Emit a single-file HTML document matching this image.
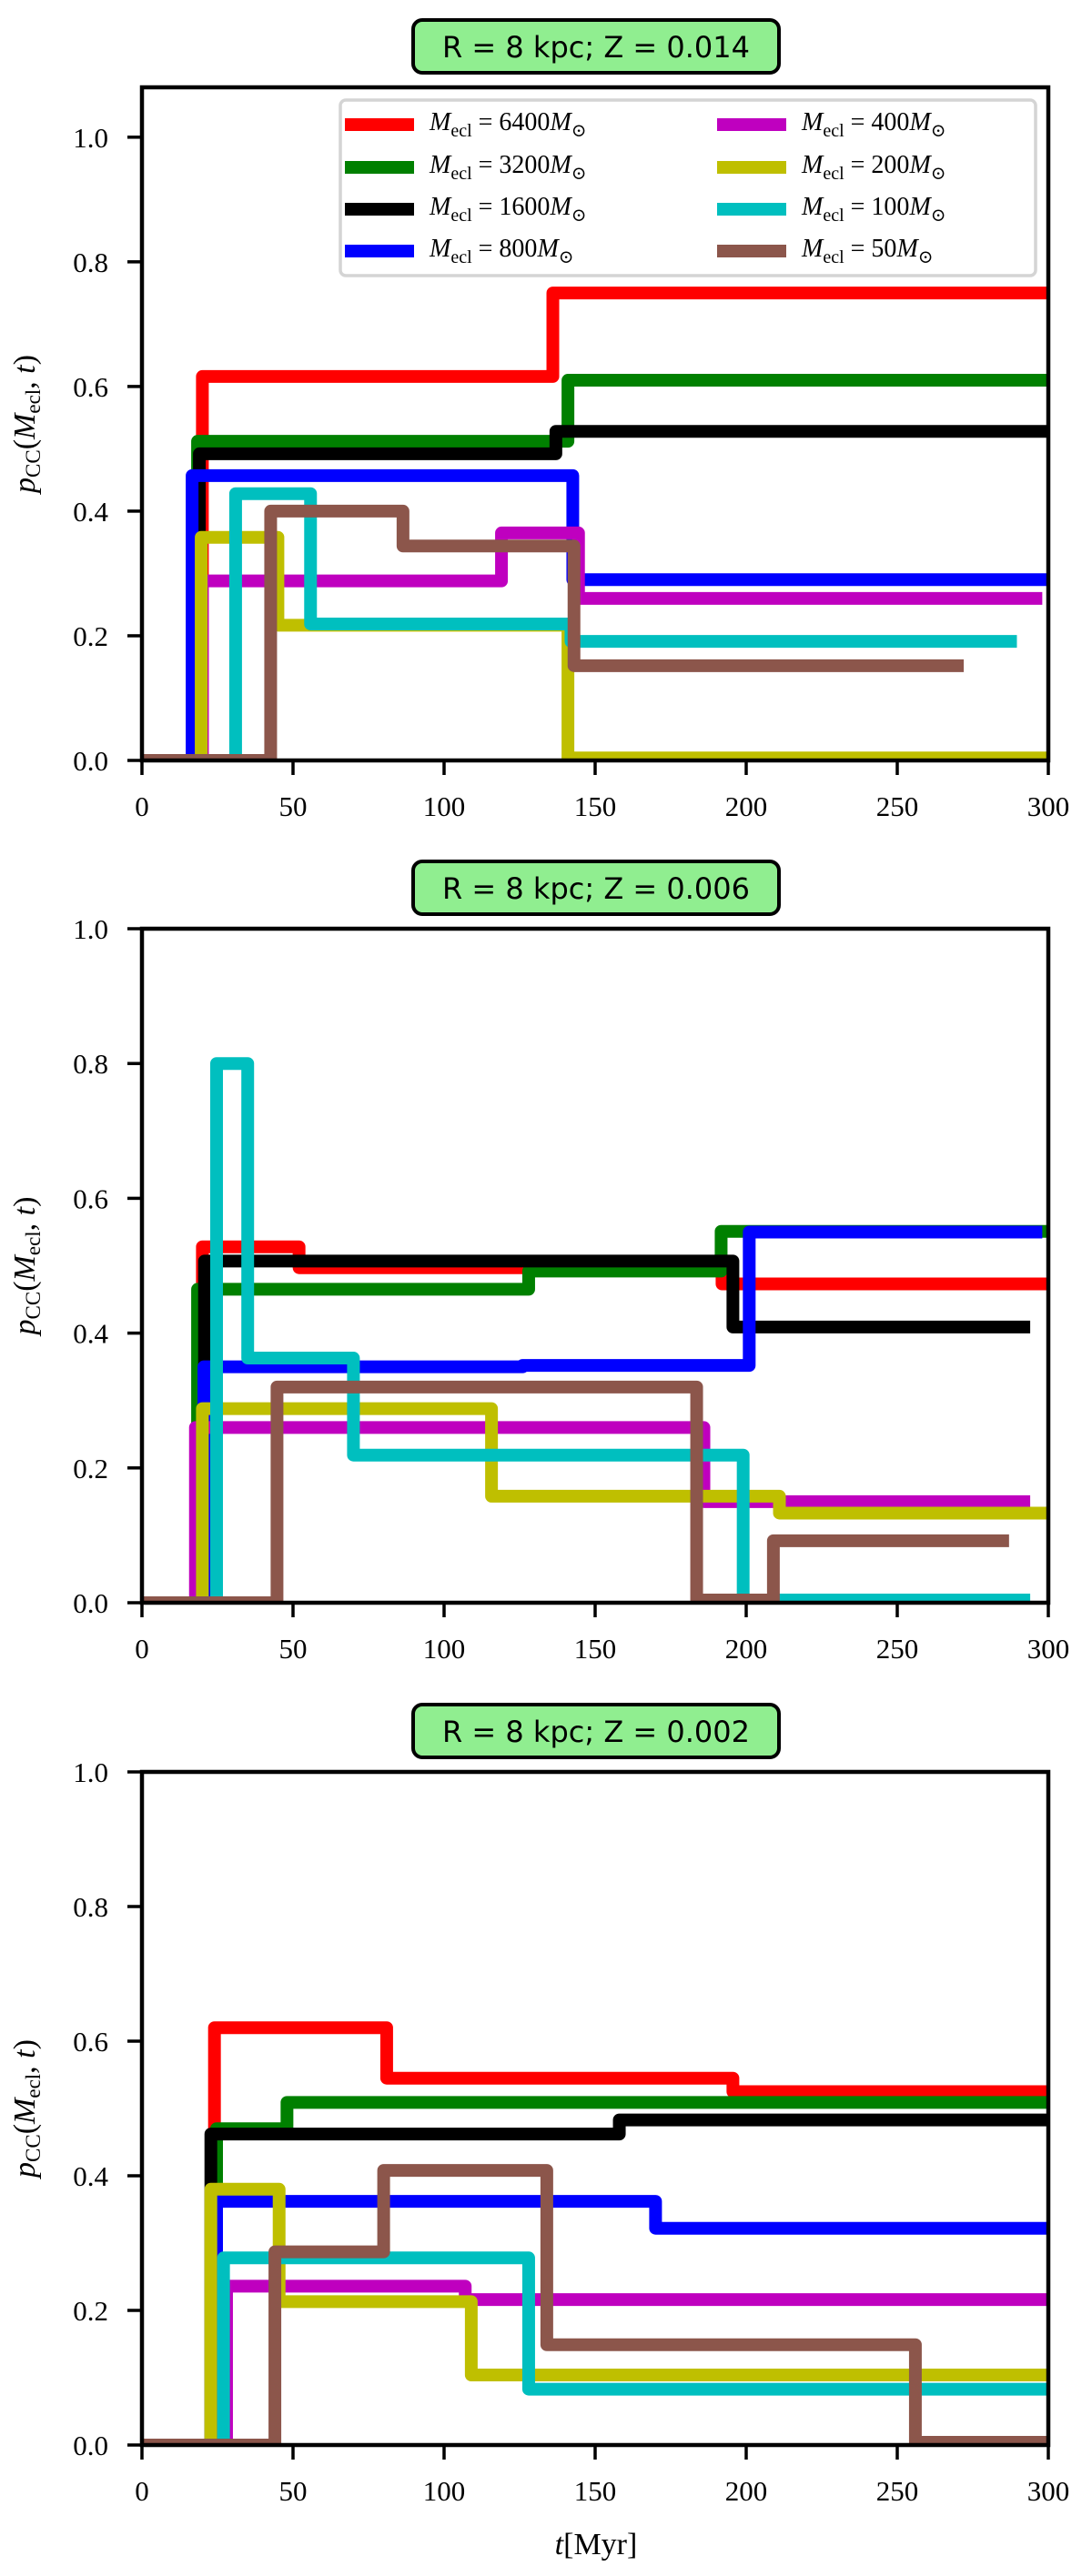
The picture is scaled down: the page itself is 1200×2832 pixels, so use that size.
<!DOCTYPE html>
<html><head><meta charset="utf-8"><title>p_CC step chart</title>
<style>
html,body{margin:0;padding:0;background:#fff;}
svg{display:block;}
.tick{font-family:"Liberation Serif","DejaVu Serif",serif;font-size:31px;fill:#000;}
.ttl{font-family:"DejaVu Sans","Liberation Sans",sans-serif;font-size:32px;fill:#000;}
.leg{font-family:"Liberation Serif","DejaVu Serif",serif;font-size:28px;fill:#000;}
</style></head>
<body>
<svg id="chart" xmlns="http://www.w3.org/2000/svg" width="1200" height="2832" viewBox="0 0 1200 2832"></svg>
<script>
// ---- data ----
const xTicks = [0, 50, 100, 150, 200, 250, 300];
const yTicks = [0.0, 0.2, 0.4, 0.6, 0.8, 1.0];
const yTickLabels = ["0.0", "0.2", "0.4", "0.6", "0.8", "1.0"];
const panelTitles = ["R = 8 kpc; Z = 0.014", "R = 8 kpc; Z = 0.006", "R = 8 kpc; Z = 0.002"];
const panelYMax = [1.08, 1.0, 1.0];
const seriesNames = ["6400", "3200", "1600", "800", "400", "200", "100", "50"];
const seriesColors = ["#ff0000", "#008000", "#000000", "#0000ff", "#bf00bf", "#bfbf00", "#00bfbf", "#8c564b"];

// Panel 1 (Z=0.014): step times and values (step-post)
const p1Times = [
  [0, 20, 136, 300],
  [0, 18.4, 141, 300],
  [0, 19, 137, 300],
  [0, 16.6, 142.6, 300],
  [0, 20, 119, 144.5, 298],
  [0, 19.6, 45, 141, 300],
  [0, 31, 55.8, 142, 289.6],
  [0, 42.6, 86.4, 143, 272]
];
const p1Values = [
  [0, 0.616, 0.75],
  [0, 0.512, 0.61],
  [0, 0.492, 0.528],
  [0, 0.457, 0.29],
  [0, 0.288, 0.365, 0.26],
  [0, 0.358, 0.217, 0.004],
  [0, 0.428, 0.219, 0.191],
  [0, 0.40, 0.344, 0.152]
];
// Panel 2 (Z=0.006)
const p2Times = [
  [0, 20, 52, 192, 300],
  [0, 18.4, 128, 191.7, 300],
  [0, 20.7, 195.6, 294],
  [0, 20.5, 126, 201, 298],
  [0, 17.7, 186, 294],
  [0, 20, 115.7, 211, 300],
  [0, 24.7, 35, 70, 199, 294],
  [0, 44.7, 183.6, 209, 287]
];
const p2Values = [
  [0, 0.528, 0.497, 0.473],
  [0, 0.465, 0.492, 0.551],
  [0, 0.507, 0.409],
  [0, 0.35, 0.352, 0.55],
  [0, 0.26, 0.15],
  [0, 0.288, 0.158, 0.133],
  [0, 0.80, 0.363, 0.219, 0.004],
  [0, 0.32, 0.004, 0.092]
];
// Panel 3 (Z=0.002)
const p3Times = [
  [0, 24, 81, 195.6, 300],
  [0, 24.7, 48, 300],
  [0, 22.8, 158, 300],
  [0, 24.7, 170, 300],
  [0, 28, 107, 300],
  [0, 22.8, 45.4, 109, 300],
  [0, 27, 128, 300],
  [0, 44, 80, 134, 256, 300]
];
const p3Values = [
  [0, 0.62, 0.545, 0.525],
  [0, 0.47, 0.509],
  [0, 0.462, 0.483],
  [0, 0.362, 0.322],
  [0, 0.236, 0.216],
  [0, 0.38, 0.213, 0.104],
  [0, 0.278, 0.083],
  [0, 0.287, 0.408, 0.149, 0.004]
];
const panelTimes = [p1Times, p2Times, p3Times];
const panelValues = [p1Values, p2Values, p3Values];

// ---- layout ----
const NS = "http://www.w3.org/2000/svg";
const svg = document.getElementById("chart");
const L = 156, R = 1152;
const panelTop = [96, 1021, 1948];
const panelBottom = [836, 1762, 2688];
function mk(tag, attrs, parent) {
  const e = document.createElementNS(NS, tag);
  for (const k in attrs) e.setAttribute(k, attrs[k]);
  (parent || svg).appendChild(e);
  return e;
}
function xScale(t) { return L + (t / 300) * (R - L); }

for (let p = 0; p < 3; p++) {
  const top = panelTop[p], bot = panelBottom[p], ymax = panelYMax[p];
  const yScale = v => bot - (v / ymax) * (bot - top);
  const g = mk("g", {});
  
  

  // title box
  const tb = mk("rect", {x: 454, y: top - 74, width: 402, height: 58, rx: 10, ry: 10, fill: "#90ee90", stroke: "#000", "stroke-width": 4}, g);
  
  
  const tt = mk("text", {x: 655, y: top - 33, "text-anchor": "middle", class: "ttl"}, g);
  tt.textContent = panelTitles[p];
  
  

  // series
  const clip = mk("clipPath", {id: "clip" + p}, g);
  mk("rect", {x: L, y: top, width: R - L, height: bot - top}, clip);
  const sg = mk("g", {"clip-path": "url(#clip" + p + ")"}, g);
  const times = panelTimes[p], vals = panelValues[p];
  for (let s = 0; s < times.length; s++) {
    const T = times[s], V = vals[s];
    let d = "M" + xScale(T[0]) + " " + yScale(V[0]);
    for (let i = 1; i < T.length; i++) {
      d += " H" + xScale(T[i]);
      if (i < V.length) d += " V" + yScale(V[i]);
    }
    const path = mk("path", {d: d, fill: "none", stroke: seriesColors[s], "stroke-width": 14, "stroke-linejoin": "round", "stroke-linecap": "butt"}, sg);
    
    
  }

  // frame
  const fr = mk("rect", {x: L, y: top, width: R - L, height: bot - top, fill: "none", stroke: "#000", "stroke-width": 4.5}, g);
  
  

  // y ticks
  for (let i = 0; i < yTicks.length; i++) {
    const y = yScale(yTicks[i]);
    const tk = mk("line", {x1: L - 16, x2: L, y1: y, y2: y, stroke: "#000", "stroke-width": 3.5}, g);
    
    
    const tl = mk("text", {x: 119, y: y + 11, "text-anchor": "end", class: "tick"}, g);
    tl.textContent = yTickLabels[i];
    
    
  }
  // x ticks
  for (let i = 0; i < xTicks.length; i++) {
    const x = xScale(xTicks[i]);
    const tk = mk("line", {x1: x, x2: x, y1: bot, y2: bot + 16, stroke: "#000", "stroke-width": 3.5}, g);
    
    
    const tl = mk("text", {x: x, y: bot + 61, "text-anchor": "middle", class: "tick"}, g);
    tl.textContent = String(xTicks[i]);
    
    
  }
  // y label
  const cy = (top + bot) / 2;
  const yl = mk("text", {x: 0, y: 0, transform: "translate(38," + cy + ") rotate(-90)", "text-anchor": "middle", "font-family": "Liberation Serif, DejaVu Serif, serif", "font-size": 34}, g);
  yl.innerHTML = '<tspan font-style="italic">p</tspan><tspan font-size="23" dy="6">CC</tspan><tspan dy="-6">(</tspan><tspan font-style="italic">M</tspan><tspan font-size="23" dy="6">ecl</tspan><tspan dy="-6">, </tspan><tspan font-style="italic">t</tspan><tspan>)</tspan>';
  
  
}

// x label (bottom panel)
const xl = mk("text", {x: 655, y: 2808, "text-anchor": "middle", "font-family": "Liberation Serif, DejaVu Serif, serif", "font-size": 34});
xl.innerHTML = '<tspan font-style="italic">t</tspan>[Myr]';



// legend
const lg = mk("g", {});


mk("rect", {x: 374, y: 110, width: 764, height: 193, rx: 6, ry: 6, fill: "#fff", stroke: "#d4d4d4", "stroke-width": 3.5}, lg);
const rowY = [137, 184, 230, 276];
for (let s = 0; s < seriesNames.length; s++) {
  const col = Math.floor(s / 4), row = s % 4;
  const hx = col === 0 ? 379 : 788;
  const e = mk("g", {}, lg);
  
  
  mk("line", {x1: hx, x2: hx + 76, y1: rowY[row], y2: rowY[row], stroke: seriesColors[s], "stroke-width": 14}, e);
  const t = mk("text", {x: hx + 93, y: rowY[row] + 6, class: "leg"}, e);
  t.innerHTML = '<tspan font-style="italic">M</tspan><tspan font-size="20" dy="7">ecl</tspan><tspan dy="-7"> = ' + seriesNames[s] + '</tspan><tspan font-style="italic">M</tspan><tspan font-size="20" dy="7">⊙</tspan>';
}
</script>
</body></html>
